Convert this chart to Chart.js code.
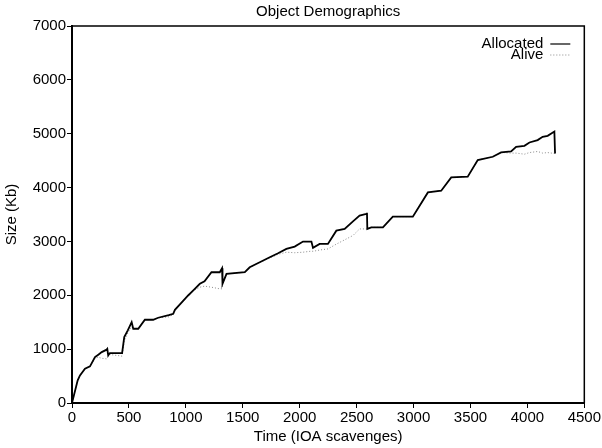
<!DOCTYPE html>
<html>
<head>
<meta charset="utf-8">
<script src="https://cdn.jsdelivr.net/npm/chart.js@4.4.1/dist/chart.umd.min.js"></script>
<style>
  body { margin: 0; background: #fff; }
</style>
</head>
<body>
<canvas id="myChart" width="602" height="448"></canvas>
<script>
// time in IOA scavenges
var times = [0, 50, 70, 114, 158, 202, 231, 261, 304, 310, 318, 333, 440, 459, 490, 524, 538, 582,
    640, 713, 757, 850, 889, 904, 960, 1020, 1070, 1123, 1164, 1225, 1298, 1318, 1322, 1357,
    1518, 1561, 1649, 1737, 1810, 1883, 1956, 2029, 2103, 2117, 2175, 2248, 2322, 2395, 2468,
    2526, 2585, 2591, 2594, 2629, 2731, 2818, 2994, 3126, 3243, 3331, 3476, 3564, 3696, 3769,
    3857, 3901, 3974, 4018, 4090, 4134, 4178, 4237, 4243];

// size in Kb
var allocated = [0, 421, 513, 637, 680, 852, 897, 945, 990, 1005, 884, 927, 927, 1223, 1350, 1501, 1379, 1379,
    1546, 1546, 1583, 1630, 1657, 1731, 1860, 1996, 2100, 2213, 2261, 2428, 2428, 2502, 2213, 2398,
    2428, 2520, 2613, 2706, 2780, 2861, 2904, 2997, 2997, 2880, 2954, 2954, 3200, 3232, 3373,
    3479, 3510, 3534, 3232, 3262, 3262, 3460, 3460, 3910, 3942, 4188, 4201, 4511, 4572, 4652,
    4670, 4757, 4776, 4837, 4881, 4943, 4961, 5041, 4633];

var alive = [0, 421, 513, 637, 680, 830, 850, 830, 820, 830, 860, 900, 870, 1150, 1300, 1420, 1379, 1379,
    1546, 1546, 1583, 1600, 1640, 1720, 1850, 1990, 2090, 2150, 2170, 2150, 2120, 2120, 2213, 2398,
    2428, 2520, 2613, 2690, 2760, 2800, 2790, 2800, 2820, 2817, 2840, 2861, 2950, 3030, 3110,
    3232, 3232, 3240, 3232, 3262, 3262, 3460, 3460, 3910, 3942, 4188, 4201, 4511, 4572, 4652,
    4640, 4640, 4620, 4650, 4670, 4640, 4650, 4633, 4633];

var seriesNames = ['Allocated', 'Alive'];

var fontFamily = '"Liberation Sans", Arial, Helvetica, sans-serif';

function toPoints(ys) {
    return times.map(function(t, i) { return { x: t, y: ys[i] }; });
}

// plain numbers on the axes, no thousands separator
function plainTick(value) {
    return String(value);
}

// box round the plot area
var framePlugin = {
    id: 'frame',
    afterDraw: function(chart) {
        var a = chart.chartArea, ctx = chart.ctx;
        ctx.save();
        ctx.strokeStyle = '#000';
        ctx.lineWidth = 1.5;
        ctx.beginPath();
        ctx.moveTo(a.left, a.top);
        ctx.lineTo(a.right, a.top);
        ctx.lineTo(a.right, a.bottom);
        ctx.stroke();
        ctx.restore();
    }
};

// legend in the top right corner, text first then the line sample
var cornerLegend = {
    id: 'cornerLegend',
    afterDraw: function(chart) {
        var a = chart.chartArea, ctx = chart.ctx;
        var right = a.right - 14, lineLen = 20, gap = 7;
        ctx.save();
        ctx.font = '15px ' + fontFamily;
        ctx.textAlign = 'right';
        ctx.textBaseline = 'middle';
        chart.data.datasets.forEach(function(ds, i) {
            var y = a.top + 18 + i * 11;
            ctx.fillStyle = '#000';
            ctx.fillText(ds.label, right - lineLen - gap, y);
            ctx.strokeStyle = ds.borderColor;
            ctx.lineWidth = i == 0 ? 1.2 : ds.borderWidth;
            ctx.setLineDash(ds.borderDash || []);
            ctx.beginPath();
            ctx.moveTo(right - lineLen, y);
            ctx.lineTo(right, y);
            ctx.stroke();
        });
        ctx.restore();
    }
};

var ctx = document.getElementById('myChart').getContext('2d');

var chart = new Chart(ctx, {
    type: 'line',
    data: {
        datasets: [{
            label: seriesNames[0],
            data: toPoints(allocated),
            borderColor: '#000',
            borderWidth: 1.8,
            pointRadius: 0,
            tension: 0,
            fill: false
        }, {
            label: seriesNames[1],
            data: toPoints(alive),
            borderColor: '#8a8a8a',
            borderWidth: 1,
            borderDash: [1, 2],
            pointRadius: 0,
            tension: 0,
            fill: false
        }]
    },
    options: {
        responsive: false,
        animation: false,
        layout: { padding: { left: 0, right: 15, top: 0, bottom: 0 } },
        plugins: {
            legend: { display: false },
            tooltip: { enabled: false },
            title: {
                display: true,
                text: 'Object Demographics',
                fullSize: false,
                color: '#000',
                font: { family: fontFamily, size: 15, weight: 'normal' },
                padding: { top: 3, bottom: 5 }
            }
        },
        scales: {
            x: {
                type: 'linear',
                min: 0,
                max: 4500,
                afterFit: function(scale) { scale.height = 45; },
                ticks: {
                    stepSize: 500,
                    color: '#000',
                    padding: 1,
                    maxRotation: 0,
                    callback: plainTick,
                    font: { family: fontFamily, size: 15 }
                },
                grid: { drawOnChartArea: false, color: '#000', tickLength: 5 },
                border: { color: '#000', width: 2 },
                title: {
                    display: true,
                    text: 'Time (IOA scavenges)',
                    color: '#000',
                    font: { family: fontFamily, size: 15 },
                    padding: { top: 2, bottom: 2 }
                }
            },
            y: {
                min: 0,
                max: 7000,
                afterFit: function(scale) { scale.width = 72; },
                ticks: {
                    stepSize: 1000,
                    color: '#000',
                    padding: 1,
                    callback: plainTick,
                    font: { family: fontFamily, size: 15 }
                },
                grid: { drawOnChartArea: false, color: '#000', tickLength: 5 },
                border: { color: '#000', width: 2 },
                title: {
                    display: true,
                    text: 'Size (Kb)',
                    color: '#000',
                    font: { family: fontFamily, size: 15 },
                    padding: { top: 3, bottom: 0 }
                }
            }
        }
    },
    plugins: [framePlugin, cornerLegend]
});
</script>
</body>
</html>
